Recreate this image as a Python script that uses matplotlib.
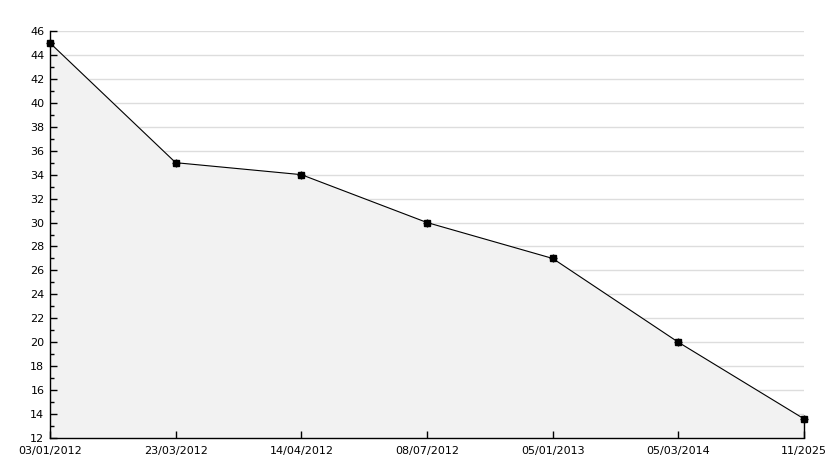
import matplotlib
matplotlib.use("Agg")
import matplotlib.pyplot as plt
import numpy as np

dates = ["03/01/2012", "23/03/2012", "14/04/2012", "08/07/2012", "05/01/2013", "05/03/2014", "11/2025"]
values = [45, 35, 34, 30, 27, 20, 13.6]

W, H = 834, 468
fig = plt.figure(figsize=(W/100, H/100), dpi=100)
ax = fig.add_axes([50/W, (H-438)/H, (804-50)/W, (438-31)/H])

x = np.arange(len(dates))
major = np.arange(12, 47, 2)
for yv in major[1:]:
    ax.axhline(yv, color="#dddddd", lw=1, zorder=0.3)
ax.fill_between(x, values, 12, color="#f2f2f2", zorder=1)
ax.plot(x, values, color="black", lw=0.8, zorder=3, clip_on=False)
ax.plot(x, values, ls="none", marker="s", ms=4, color="black", zorder=4, clip_on=False)
ax.plot(x, values, ls="none", marker="+", ms=6, mew=1, color="black", zorder=4, clip_on=False)
ax.vlines(x[-1], 12, values[-1], color="black", lw=1, zorder=3, clip_on=False)

ax.set_xlim(0, len(dates)-1)
ax.set_ylim(12, 46)
ax.set_yticks(major)
ax.set_yticks(np.arange(13, 46, 2), minor=True)
ax.set_xticks(x)
ax.set_xticklabels(dates)
ax.set_axisbelow(False)
for s in ["top", "right"]:
    ax.spines[s].set_visible(False)
for s in ["left", "bottom"]:
    ax.spines[s].set_linewidth(1)
    ax.spines[s].set_zorder(5)
ax.tick_params(axis="y", which="major", direction="in", length=5, width=1, labelsize=8, pad=4)
ax.tick_params(axis="y", which="minor", direction="in", length=3, width=1)
ax.tick_params(axis="x", direction="in", length=5, width=1, labelsize=8, pad=6)
fig.savefig("out.png", dpi=100, facecolor="white")
